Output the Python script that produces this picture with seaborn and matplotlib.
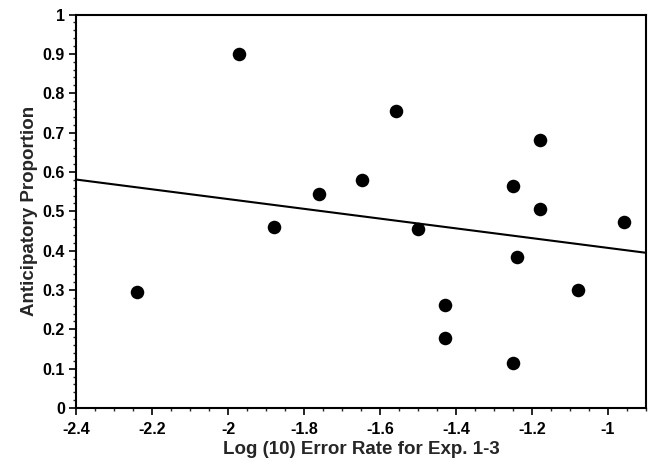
import numpy as np
import pandas as pd
import matplotlib
matplotlib.use("Agg")
import matplotlib.pyplot as plt
from matplotlib.ticker import MultipleLocator
import seaborn as sns

# values
log_error_rate = [-2.24, -1.97, -1.878, -1.761, -1.647, -1.559, -1.499, -1.430,
                  -1.429, -1.25, -1.25, -1.24, -1.18, -1.18, -1.078, -0.959]
anticipatory = [0.294, 0.899, 0.461, 0.544, 0.580, 0.754, 0.455, 0.177,
                0.262, 0.563, 0.115, 0.383, 0.681, 0.506, 0.300, 0.474]

x_ticks = [-2.4, -2.2, -2.0, -1.8, -1.6, -1.4, -1.2, -1.0]
x_tick_labels = ["-2.4", "-2.2", "-2", "-1.8", "-1.6", "-1.4", "-1.2", "-1"]
y_ticks = [0, 0.1, 0.2, 0.3, 0.4, 0.5, 0.6, 0.7, 0.8, 0.9, 1.0]
y_tick_labels = ["0", "0.1", "0.2", "0.3", "0.4", "0.5", "0.6", "0.7", "0.8", "0.9", "1"]

df = pd.DataFrame({"x": log_error_rate, "y": anticipatory})

sns.set_style("ticks")
plt.rcParams["font.family"] = ["Liberation Sans", "DejaVu Sans"]
plt.rcParams["font.weight"] = "bold"

fig = plt.figure(figsize=(6.49, 4.69), dpi=100)
ax = fig.add_axes([0.1171, 0.130, 0.8783, 0.839])
ax.set_xlim(-2.4, -0.9)
ax.set_ylim(0, 1)

# regression line over the whole axis width, no confidence band
sns.regplot(data=df, x="x", y="y", ax=ax, ci=None, truncate=False,
            scatter_kws={"s": 95, "color": "black", "alpha": 1, "linewidths": 0},
            line_kws={"color": "black", "linewidth": 1.5})

ax.set_xlim(-2.4, -0.9)
ax.set_ylim(0, 1)
ax.set_xticks(x_ticks)
ax.set_xticklabels(x_tick_labels)
ax.set_yticks(y_ticks)
ax.set_yticklabels(y_tick_labels)
ax.xaxis.set_minor_locator(MultipleLocator(0.05))
ax.yaxis.set_minor_locator(MultipleLocator(0.02))

ax.tick_params(axis="both", which="major", direction="out", length=5, width=1.2,
               labelsize=11.5, colors="black")
ax.tick_params(axis="x", which="major", pad=5)
ax.tick_params(axis="y", which="major", pad=3)
ax.tick_params(axis="both", which="minor", direction="out", length=2.5, width=1)
for lab in ax.get_xticklabels() + ax.get_yticklabels():
    lab.set_fontweight("bold")

for side in ["top", "right", "left", "bottom"]:
    ax.spines[side].set_visible(True)
    ax.spines[side].set_linewidth(1.5)
    ax.spines[side].set_color("black")

ax.set_xlabel("Log (10) Error Rate for Exp. 1-3", fontsize=13.5, fontweight="bold", labelpad=3)
ax.set_ylabel("Anticipatory Proportion", fontsize=13.5, fontweight="bold", labelpad=3)

fig.savefig("out.png", dpi=100)
